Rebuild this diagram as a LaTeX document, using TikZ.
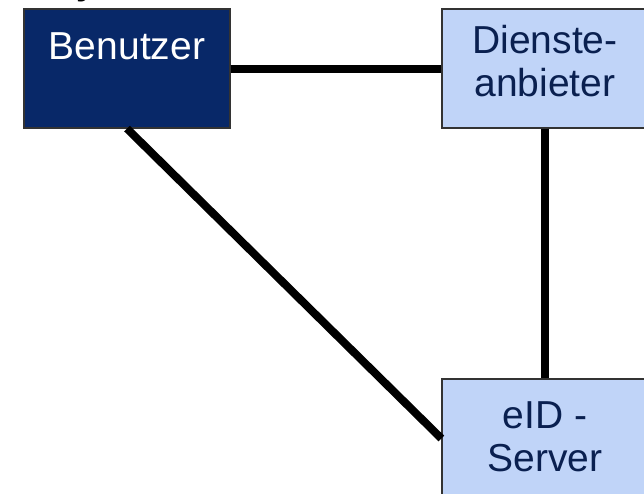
\documentclass[tikz,border=0pt]{standalone}
\usepackage{fontspec}
\setmainfont{Liberation Sans}
\usetikzlibrary{positioning}

\definecolor{ownnavy}{RGB}{8,40,104}
\definecolor{ownlight}{RGB}{192,212,248}
\definecolor{owntext}{RGB}{10,32,80}

\tikzset{
    party/.style={draw=black!80, line width=1.2pt, minimum width=206pt, minimum height=119pt, inner sep=0pt},
    partytext/.style={font=\fontsize{39}{43}\selectfont, align=center, inner sep=0pt, anchor=base},
    link/.style={line width=8pt}
}

\begin{document}
\begin{tikzpicture}[x=1pt, y=-1pt]
    \useasboundingbox (0,0) rectangle (644,493);

    \node[party, fill=ownnavy] (benutzer) at (127,68.5) {};
    \node[party, fill=ownlight] (anbieter) at (545,68.5) {};
    \node[party, fill=ownlight] (server) at (545,438.5) {};

    % base anchor sits on the last line
    \node[partytext, white] (benutzertext) at ([yshift=-51pt]benutzer.north) {Benutzer};
    \node[partytext, owntext] (anbietertext) at ([yshift=-88pt]anbieter.north) {Dienste-\\anbieter};
    \node[partytext, owntext] (servertext) at ([yshift=-93pt]server.north) {eID -\\Server};

    % cut-off heading above the picture
    \node[font=\fontsize{36}{40}\selectfont\bfseries, inner sep=0pt, anchor=base west] (heading) at (76,-6) {y};

    \draw[link] (benutzer.east) -- (anbieter.west);
    \draw[link] (anbieter.south) -- (server.north);
    \draw[link] (benutzer.south) -- (server.west);
\end{tikzpicture}
\end{document}
